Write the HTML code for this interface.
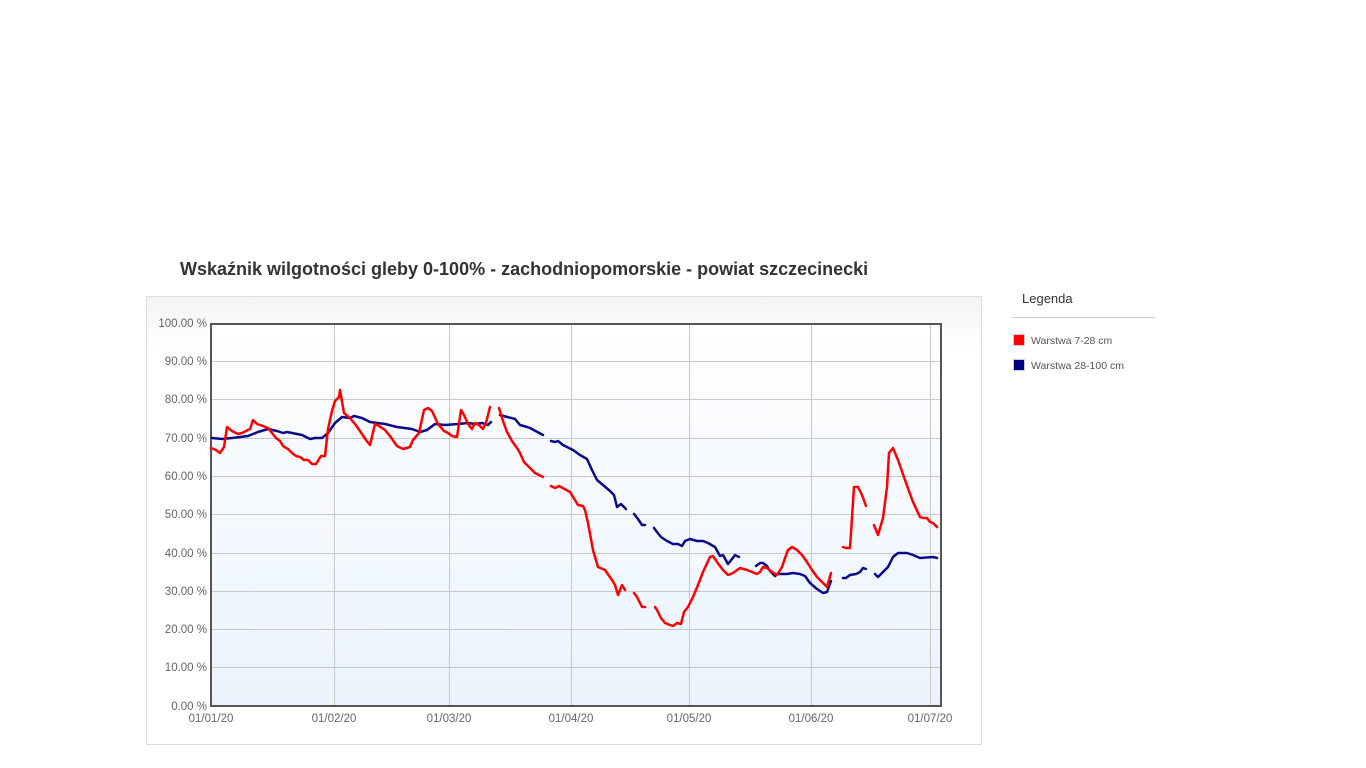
<!DOCTYPE html>
<html><head><meta charset="utf-8"><style>
body{margin:0;width:1366px;height:768px;background:#fff;position:relative;overflow:hidden;font-family:"Liberation Sans",sans-serif}
</style></head><body>
<svg width="1366" height="768" style="position:absolute;left:0;top:0" font-family="Liberation Sans, sans-serif">
<defs>
<linearGradient id="pg" x1="0" y1="0" x2="0" y2="1"><stop offset="0" stop-color="#f4f4f4"/><stop offset="0.12" stop-color="#fff"/><stop offset="1" stop-color="#fff"/></linearGradient>
<linearGradient id="ag" x1="0" y1="0" x2="0" y2="1"><stop offset="0" stop-color="#ffffff"/><stop offset="1" stop-color="#eaf3fd"/></linearGradient>
</defs>
<text x="180" y="275" font-size="18" font-weight="bold" fill="#333">Wskaźnik wilgotności gleby 0-100% - zachodniopomorskie - powiat szczecinecki</text>
<rect x="146.5" y="296.5" width="835" height="448" fill="url(#pg)" stroke="#ddd"/>
<rect x="211" y="324" width="730" height="382" fill="url(#ag)"/>
<g stroke="#c8c8c8" stroke-width="1">
<line x1="211" x2="941" y1="361.5" y2="361.5"/><line x1="211" x2="941" y1="399.5" y2="399.5"/><line x1="211" x2="941" y1="438.5" y2="438.5"/><line x1="211" x2="941" y1="476.5" y2="476.5"/><line x1="211" x2="941" y1="514.5" y2="514.5"/><line x1="211" x2="941" y1="553.5" y2="553.5"/><line x1="211" x2="941" y1="591.5" y2="591.5"/><line x1="211" x2="941" y1="629.5" y2="629.5"/><line x1="211" x2="941" y1="667.5" y2="667.5"/>
<line x1="334.5" x2="334.5" y1="324" y2="706"/><line x1="449.5" x2="449.5" y1="324" y2="706"/><line x1="571.5" x2="571.5" y1="324" y2="706"/><line x1="689.5" x2="689.5" y1="324" y2="706"/><line x1="811.5" x2="811.5" y1="324" y2="706"/><line x1="930.5" x2="930.5" y1="324" y2="706"/>
</g>
<rect x="211" y="324" width="730" height="382" fill="none" stroke="#555" stroke-width="2"/>
<g font-size="11.5" fill="#666" text-anchor="end">
<text x="207" y="327">100.00 %</text><text x="207" y="365">90.00 %</text><text x="207" y="403">80.00 %</text><text x="207" y="442">70.00 %</text><text x="207" y="480">60.00 %</text><text x="207" y="518">50.00 %</text><text x="207" y="557">40.00 %</text><text x="207" y="595">30.00 %</text><text x="207" y="633">20.00 %</text><text x="207" y="671">10.00 %</text><text x="207" y="710">0.00 %</text>
</g>
<g font-size="11.5" fill="#666" text-anchor="middle">
<text x="211" y="722">01/01/20</text><text x="334" y="722">01/02/20</text><text x="449" y="722">01/03/20</text><text x="571" y="722">01/04/20</text><text x="689" y="722">01/05/20</text><text x="811" y="722">01/06/20</text><text x="930" y="722">01/07/20</text>
</g>
<g fill="none" stroke-width="2.5" stroke-linejoin="round" stroke-linecap="round">
<g stroke="#0a0a8a">
<polyline points="212,438 222,439 232,438 248,436 258,432 268,429 277,431 283,433 287,432 302,435 310,439 315,438 322,438 328,433 335,423 342,417 350,418 354,416 362,418 370,422 385,424 397,427 412,429 420,432 427,430 435,424 445,425 458,424 468,423 475,424 482,423 488,425 491,422"/>
<polyline points="500,415 515,419 520,425 527,427 530,428 543,435"/>
<polyline points="551,441 555,442 558,441 563,445 573,450 580,455 587,459 592,470 597,480 603,485 610,491 614,495 617,507 621,504 626,509"/>
<polyline points="634,514 638,519 642,525 645,525"/>
<polyline points="654,528 657,532 661,537 667,541 673,544 678,544 682,546 685,541 690,539 697,541 703,541 708,543 715,547 720,556 723,555 728,564 732,559 735,555 739,557"/>
<polyline points="756,566 760,563 763,563 767,566 770,571 775,576 778,574 787,574 793,573 800,574 805,576 810,583 817,589 823,593 827,592 831,581"/>
<polyline points="843,578 846,578 850,575 856,574 860,572 863,568 866,569"/>
<polyline points="875,574 878,577 883,572 888,567 893,557 898,553 907,553 913,555 920,558 933,557 937,558"/>
</g>
<g stroke="#ff0000">
<polyline points="211,448 216,450 220,453 224,447 227,427 232,431 238,434 242,433 246,431 250,429 253,420 257,424 263,426 268,428 272,433 276,438 280,441 283,446 288,449 292,453 296,456 300,457 304,460 308,460 312,464 316,464 321,456 325,456 328,429 332,411 335,401 339,397 340,390 344,413 350,418 355,424 360,431 366,440 370,445 375,424 379,426 385,430 390,436 397,446 403,449 410,447 413,440 419,433 424,410 428,408 432,411 438,424 444,431 448,433 452,436 457,437 461,410 464,415 468,424 472,429 475,423 479,425 483,429 486,423 490,407"/>
<polyline points="499,408 503,421 507,432 512,441 517,448 520,453 524,462 530,468 535,473 539,475 543,477"/>
<polyline points="551,486 555,488 559,486 570,492 578,505 583,506 585,510 588,523 593,550 598,567 605,570 612,580 615,585 618,595 622,585 625,590"/>
<polyline points="634,593 637,597 642,607 645,607"/>
<polyline points="655,607 657,610 661,618 665,623 670,625 673,626 677,623 681,624 684,612 688,607 693,597 698,585 703,572 710,557 713,556 717,562 723,570 728,575 733,573 740,568 747,570 752,572 757,574 760,572 763,567 767,568 772,572 777,575 782,567 785,558 788,550 792,547 797,550 802,555 807,562 812,570 817,577 823,583 827,587 831,573"/>
<polyline points="843,547 846,548 850,548 854,487 858,487 862,495 866,506"/>
<polyline points="874,525 878,535 883,518 887,487 889,453 893,448 898,460 905,480 913,502 920,517 923,518 927,518 930,522 933,523 937,527"/>
</g>
</g>
<text x="1022" y="303" font-size="13" fill="#333">Legenda</text>
<line x1="1012" x2="1155" y1="317.5" y2="317.5" stroke="#ccc"/>
<rect x="1013.5" y="334.5" width="11" height="11" fill="#ff0000" stroke="#ccc"/>
<text x="1031" y="344" font-size="10.5" fill="#555">Warstwa 7-28 cm</text>
<rect x="1013.5" y="359.5" width="11" height="11" fill="#000080" stroke="#ccc"/>
<text x="1031" y="369" font-size="10.5" fill="#555">Warstwa 28-100 cm</text>
</svg>
</body></html>
